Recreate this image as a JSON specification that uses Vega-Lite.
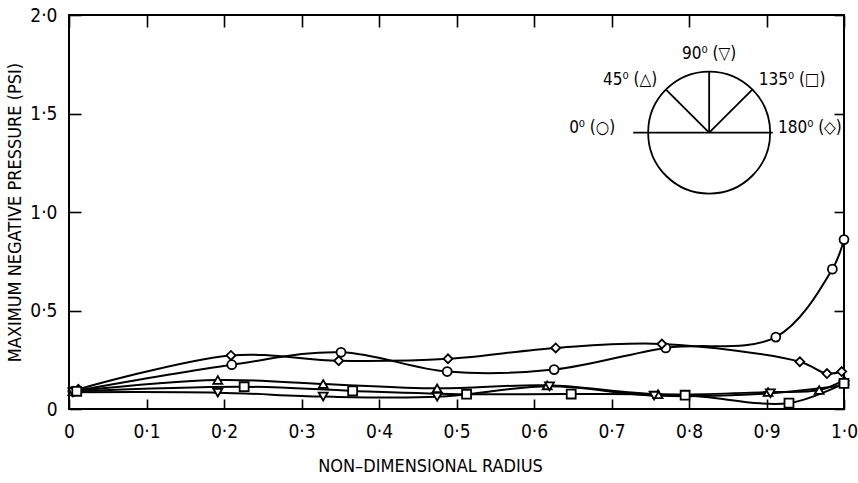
{
  "$schema": "https://vega.github.io/schema/vega-lite/v6.json",
  "width": 775,
  "height": 394,
  "autosize": "none",
  "padding": {"left": 69, "top": 15, "right": 14, "bottom": 74},
  "background": "white",
  "config": {
    "view": {"stroke": "black", "strokeWidth": 2},
    "font": "DejaVu Sans Condensed, Liberation Sans Narrow, DejaVu Sans",
    "axis": {
      "domain": false,
      "grid": false,
      "tickColor": "black",
      "tickWidth": 1.6,
      "labelColor": "black",
      "titleColor": "black",
      "labelFontSize": 19,
      "titleFontSize": 18,
      "titleFontWeight": "normal",
      "labelFlush": false,
      "labelOverlap": false
    }
  },
  "datasets": {
    "pressure": [
      {"angle": "0", "radius": 0.005, "pressure": 0.09},
      {"angle": "0", "radius": 0.21, "pressure": 0.225},
      {"angle": "0", "radius": 0.351, "pressure": 0.288},
      {"angle": "0", "radius": 0.488, "pressure": 0.19},
      {"angle": "0", "radius": 0.626, "pressure": 0.2},
      {"angle": "0", "radius": 0.77, "pressure": 0.31},
      {"angle": "0", "radius": 0.912, "pressure": 0.365},
      {"angle": "0", "radius": 0.985, "pressure": 0.71},
      {"angle": "0", "radius": 1.0, "pressure": 0.86},
      {"angle": "180", "radius": 0.012, "pressure": 0.1},
      {"angle": "180", "radius": 0.209, "pressure": 0.272},
      {"angle": "180", "radius": 0.348, "pressure": 0.245},
      {"angle": "180", "radius": 0.489, "pressure": 0.255},
      {"angle": "180", "radius": 0.628, "pressure": 0.31},
      {"angle": "180", "radius": 0.765, "pressure": 0.33},
      {"angle": "180", "radius": 0.943, "pressure": 0.24},
      {"angle": "180", "radius": 0.978, "pressure": 0.18},
      {"angle": "180", "radius": 0.997, "pressure": 0.19},
      {"angle": "45", "radius": 0.005, "pressure": 0.09},
      {"angle": "45", "radius": 0.192, "pressure": 0.147},
      {"angle": "45", "radius": 0.328, "pressure": 0.127},
      {"angle": "45", "radius": 0.475, "pressure": 0.105},
      {"angle": "45", "radius": 0.617, "pressure": 0.12},
      {"angle": "45", "radius": 0.76, "pressure": 0.075},
      {"angle": "45", "radius": 0.902, "pressure": 0.086},
      {"angle": "45", "radius": 0.968, "pressure": 0.096},
      {"angle": "45", "radius": 1.0, "pressure": 0.147},
      {"angle": "90", "radius": 0.005, "pressure": 0.085},
      {"angle": "90", "radius": 0.192, "pressure": 0.083},
      {"angle": "90", "radius": 0.328, "pressure": 0.063},
      {"angle": "90", "radius": 0.475, "pressure": 0.062},
      {"angle": "90", "radius": 0.62, "pressure": 0.115},
      {"angle": "90", "radius": 0.755, "pressure": 0.068},
      {"angle": "90", "radius": 0.905, "pressure": 0.08},
      {"angle": "90", "radius": 1.0, "pressure": 0.12},
      {"angle": "135", "radius": 0.01, "pressure": 0.09},
      {"angle": "135", "radius": 0.226, "pressure": 0.113},
      {"angle": "135", "radius": 0.366, "pressure": 0.092},
      {"angle": "135", "radius": 0.513, "pressure": 0.075},
      {"angle": "135", "radius": 0.648, "pressure": 0.076},
      {"angle": "135", "radius": 0.795, "pressure": 0.07},
      {"angle": "135", "radius": 0.929, "pressure": 0.03},
      {"angle": "135", "radius": 1.0, "pressure": 0.13}
    ],
    "dial": [{"radius": 0.826, "pressure": 1.403}],
    "spokes": [
      {"radius": 0.728, "pressure": 1.403, "radius2": 0.908, "pressure2": 1.403},
      {"radius": 0.826, "pressure": 1.403, "radius2": 0.77, "pressure2": 1.622},
      {"radius": 0.826, "pressure": 1.403, "radius2": 0.826, "pressure2": 1.713},
      {"radius": 0.826, "pressure": 1.403, "radius2": 0.882, "pressure2": 1.622}
    ],
    "dialLabels": [
      {"label": "90⁰ (▽)", "radius": 0.826, "pressure": 1.8},
      {"label": "45⁰ (△)", "radius": 0.724, "pressure": 1.67},
      {"label": "135⁰ (□)", "radius": 0.933, "pressure": 1.67},
      {"label": "0⁰ (○)", "radius": 0.675, "pressure": 1.426},
      {"label": "180⁰ (◇)", "radius": 0.956, "pressure": 1.426}
    ]
  },
  "layer": [
    {
      "data": {"name": "pressure"},
      "mark": {"type": "line", "interpolate": "catmull-rom", "color": "black", "strokeWidth": 2},
      "encoding": {
        "x": {
          "field": "radius",
          "type": "quantitative",
          "scale": {"domain": [0, 1], "nice": false},
          "axis": {
            "orient": "bottom",
            "title": "NON–DIMENSIONAL RADIUS",
            "values": [0, 0.1, 0.2, 0.3, 0.4, 0.5, 0.6, 0.7, 0.8, 0.9, 1.0],
            "labelExpr": "datum.value == 0 ? '0' : replace(format(datum.value, '.1f'), '.', '·')",
            "tickSize": -10,
            "labelPadding": 23,
            "titlePadding": 16,
            "titleX": 361
          }
        },
        "y": {
          "field": "pressure",
          "type": "quantitative",
          "scale": {"domain": [0, 2], "nice": false},
          "axis": {
            "orient": "left",
            "title": "MAXIMUM NEGATIVE PRESSURE (PSI)",
            "values": [0, 0.5, 1, 1.5, 2],
            "labelExpr": "datum.value == 0 ? '0' : replace(format(datum.value, '.1f'), '.', '·')",
            "tickSize": -12,
            "labelPadding": 24,
            "titlePadding": 5
          }
        },
        "detail": {"field": "angle", "type": "nominal"}
      }
    },
    {
      "data": {"name": "pressure"},
      "mark": {"type": "point", "filled": true, "fill": "white", "stroke": "black", "strokeWidth": 1.8, "size": 80, "opacity": 1},
      "encoding": {
        "x": {"field": "radius", "type": "quantitative", "axis": null},
        "y": {"field": "pressure", "type": "quantitative", "axis": null},
        "shape": {
          "field": "angle",
          "type": "nominal",
          "scale": {
            "domain": ["0", "45", "90", "135", "180"],
            "range": ["circle", "triangle-up", "triangle-down", "square", "diamond"]
          },
          "legend": null
        }
      }
    },
    {
      "data": {"name": "dial"},
      "mark": {"type": "point", "shape": "circle", "size": 14884, "filled": false, "stroke": "black", "strokeWidth": 1.8, "opacity": 1},
      "encoding": {
        "x": {"field": "radius", "type": "quantitative", "axis": null},
        "y": {"field": "pressure", "type": "quantitative", "axis": null}
      }
    },
    {
      "data": {"name": "spokes"},
      "mark": {"type": "rule", "color": "black", "strokeWidth": 1.8},
      "encoding": {
        "x": {
          "field": "radius",
          "type": "quantitative",
          "axis": {
            "orient": "top",
            "title": null,
            "labels": false,
            "values": [0, 0.1, 0.2, 0.3, 0.4, 0.5, 0.6, 0.7, 0.8, 0.9, 1.0],
            "tickSize": -12
          }
        },
        "y": {
          "field": "pressure",
          "type": "quantitative",
          "axis": {
            "orient": "right",
            "title": null,
            "labels": false,
            "values": [0, 0.5, 1, 1.5, 2],
            "tickSize": -10
          }
        },
        "x2": {"field": "radius2"},
        "y2": {"field": "pressure2"}
      }
    },
    {
      "data": {"name": "dialLabels"},
      "mark": {"type": "text", "fontSize": 17, "color": "black", "baseline": "middle", "align": "center"},
      "encoding": {
        "x": {"field": "radius", "type": "quantitative", "axis": null},
        "y": {"field": "pressure", "type": "quantitative", "axis": null},
        "text": {"field": "label"}
      }
    }
  ],
  "resolve": {"axis": {"x": "independent", "y": "independent"}}
}
